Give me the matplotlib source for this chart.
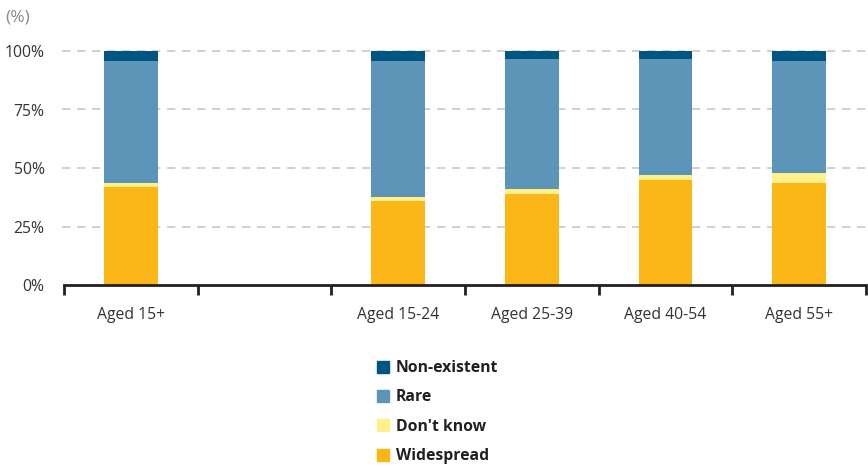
import matplotlib
matplotlib.use("Agg")
import matplotlib.pyplot as plt
from matplotlib.lines import Line2D
import numpy as np

plt.rcParams['font.family'] = ['Open Sans', 'DejaVu Sans']

categories = ["Aged 15+", "", "Aged 15-24", "Aged 25-39", "Aged 40-54", "Aged 55+"]
widespread = [42.0, np.nan, 35.9, 38.9, 44.9, 43.6]
dont_know = [1.7, np.nan, 1.7, 2.1, 2.1, 4.3]
rare = [52.0, np.nan, 58.1, 55.6, 49.6, 47.8]
non_existent = [4.3, np.nan, 4.3, 3.4, 3.4, 4.3]

series = [("Widespread", widespread, "#fbb718"),
          ("Don't know", dont_know, "#fff08c"),
          ("Rare", rare, "#5d95b8"),
          ("Non-existent", non_existent, "#005581")]

fig = plt.figure(figsize=(8.68, 4.67), dpi=100)
ax = fig.add_axes([64/868, 1-285/467, (866-64)/868, (285-51)/467])

x = np.arange(len(categories))
bottom = np.zeros(len(categories))
for name, vals, col in series:
    v = np.array(vals, dtype=float)
    ax.bar(x, np.nan_to_num(v), bottom=bottom, width=0.4, color=col, label=name, zorder=3)
    bottom += np.nan_to_num(v)

ax.set_xlim(-0.5, len(categories) - 0.5)
ax.set_ylim(0, 100)

yt = [0, 25, 50, 75, 100]
ax.set_yticks(yt)
ax.set_yticklabels([f"{t}%" for t in yt], fontsize=11.3, color="#333333")
ax.tick_params(axis='y', length=0, pad=14)
for t in yt[1:]:
    ax.axhline(t, color="#c8c8c8", lw=1.2, ls=(0, (5, 4)), zorder=1, clip_on=False,
               xmin=-0.003, xmax=1.003)

ax.set_xticks(np.arange(-0.5, len(categories), 1.0))
ax.set_xticklabels([])
ax.tick_params(axis='x', which='major', direction='out', length=7, width=2, color="#231f20")
ax.set_xticks(x, minor=True)
ax.set_xticklabels(categories, minor=True, fontsize=11.3, color="#333333")
ax.tick_params(axis='x', which='minor', length=0, pad=16)

for s in ['top', 'right', 'left']:
    ax.spines[s].set_visible(False)
ax.spines['bottom'].set_color("#231f20")
ax.spines['bottom'].set_linewidth(2)
ax.spines['bottom'].set_zorder(4)

fig.text(5/868, 1-18/467, "(%)", fontsize=12.5, color="#8a8a8a", va='center', ha='left')

handles = []
for name, vals, col in series[::-1]:
    handles.append(Line2D([], [], marker='s', ls='none', markersize=8,
                          markerfacecolor=col, markeredgecolor=col, label=name))
leg = fig.legend(handles=handles, loc='upper left', bbox_to_anchor=(361/868, 1-346/467),
                 frameon=False, ncol=1, handletextpad=0.3, labelspacing=0.85,
                 handlelength=1.0, prop={'weight': 'bold', 'size': 11.3})
for t in leg.get_texts():
    t.set_color("#231f20")

fig.savefig("out.png", dpi=100)
